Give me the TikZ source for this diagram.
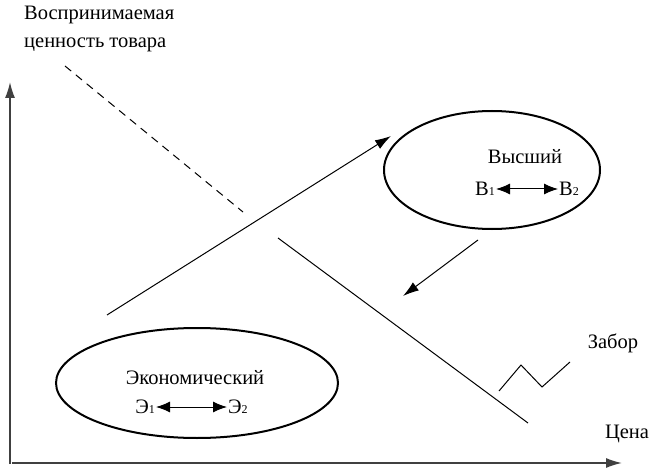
\documentclass[tikz,border=0pt]{standalone}
\usepackage{fontspec}
\setmainfont{Liberation Serif}
\usetikzlibrary{arrows.meta,shapes.geometric}
\tikzset{
	oval/.style={ellipse, draw, line width=2pt, inner sep=0pt},
	lbl/.style={font=\fontsize{20.5}{27}\selectfont, inner sep=1pt},
	axis/.style={line width=1.5pt, draw=black!75, -{Latex[length=16pt,width=10pt]}},
	bigtip/.style={line width=1pt, -{Latex[length=16pt,width=10pt]}},
	pair/.style={line width=1pt, {Latex[length=14pt,width=11pt]}-{Latex[length=14pt,width=11pt]}}
}
\newcommand{\ix}[1]{{\fontsize{12}{12}\selectfont #1}}
\begin{document}
\begin{tikzpicture}[x=1pt, y=-1pt]
	\useasboundingbox (0,0) rectangle (667,468);
	% axes
	\coordinate (yfoot) at (10,464);
	\coordinate (ytop) at (10,82);
	\coordinate (xfoot) at (12,463);
	\coordinate (xend) at (622,463);
	\draw[axis] (yfoot) -- (ytop);
	\draw[axis] (xfoot) -- (xend);
	\node[lbl, anchor=north west, align=left, font=\fontsize{20.5}{28}\selectfont] (value) at (23,5) {Воспринимаемая\\ценность товара};
	\node[lbl] (price) at (627,434) {Цена};
	\node[lbl] (fence) at (613,343) {Забор};
	% segments
	\coordinate (dash0) at (65,66);
	\coordinate (dash1) at (243,212);
	\coordinate (line0) at (278,238);
	\coordinate (line1) at (528,423);
	\draw[line width=1pt, dash pattern=on 8pt off 6pt] (dash0) -- (dash1);
	\draw[line width=1pt] (line0) -- (line1);
	\draw[line width=1pt] (499,391) coordinate (z0) -- (521,365) coordinate (z1)
		-- (542,387) coordinate (z2) -- (570,362) coordinate (z3);
	% ovals
	\node[oval, minimum width=216pt, minimum height=118pt] (top) at (492,170) {};
	\node[oval, minimum width=282pt, minimum height=110pt] (low) at (197,383) {};
	\node[lbl] (topname) at (525,157) {Высший};
	\node[lbl, anchor=east] (b1) at (496,189) {В\ix1};
	\node[lbl, anchor=west] (b2) at (558,189) {В\ix2};
	\draw[pair] (b1.east) -- (b2.west);
	\node[lbl] (lowname) at (195,378) {Экономический};
	\node[lbl, anchor=east] (e1) at (156,407) {Э\ix1};
	\node[lbl, anchor=west] (e2) at (227,407) {Э\ix2};
	\draw[pair] (e1.east) -- (e2.west);
	% moves
	\coordinate (up0) at (107,315);
	\coordinate (up1) at (391,136);
	\coordinate (down0) at (478,240);
	\coordinate (down1) at (403,296);
	\draw[bigtip] (up0) -- (up1);
	\draw[bigtip] (down0) -- (down1);
\end{tikzpicture}
\end{document}
